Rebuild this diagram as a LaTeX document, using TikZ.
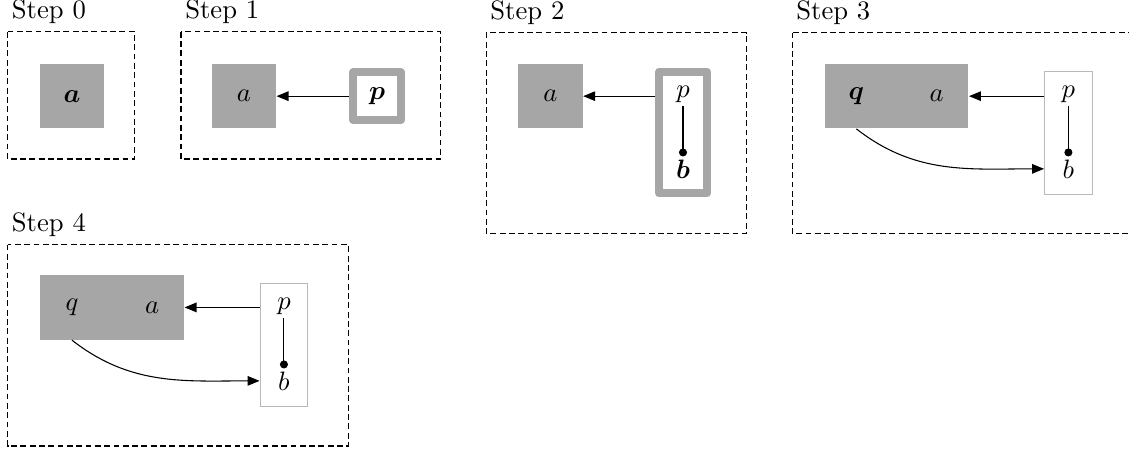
\documentclass[tikz,border=0pt]{standalone}
\usepackage{amsmath,amssymb}
\usepackage{bm}
\usetikzlibrary{calc, arrows.meta}

\tikzset{
  frame/.style={dash pattern=on 2.2pt off 1.3pt, line width=0.4pt},
  steplabel/.style={anchor=base west, inner sep=0pt},
  cell/.style={fill=gray!70, minimum size=0.85cm, inner sep=0pt},
  letter/.style={inner sep=1pt},
  block/.style={fill=gray!70, minimum width=1.9cm, minimum height=0.85cm, inner sep=0pt},
  focus/.style={draw=gray!70, line width=3pt, line join=round, fill=white, minimum width=0.63cm, minimum height=0.63cm},
  holder/.style={draw=gray!55, line width=0.4pt, minimum width=0.63cm, minimum height=1.62cm},
  link/.style={-{Triangle[length=4.5pt, width=3.6pt]}},
  stem/.style={line width=0.4pt, -{Circle[length=3pt]}}
}

\begin{document}
\begin{tikzpicture}
\useasboundingbox (0,0) rectangle (14.91,-5.98);

\draw[frame] (0.10,-0.42) rectangle (1.78,-2.10);
\node[steplabel] (l0) at (0.15,-0.25) {Step 0};
\node[cell] (a0) at (0.95,-1.27) {$\bm{a}$};

\draw[frame] (2.39,-0.42) rectangle (5.82,-2.10);
\node[steplabel] (l1) at (2.44,-0.25) {Step 1};
\node[cell] (a1) at (3.22,-1.27) {$a$};
\node[focus] (p1) at (4.98,-1.27) {$\bm{p}$};
\draw[link] (p1) -- (a1);

\draw[frame] (6.42,-0.43) rectangle (9.86,-3.08);
\node[steplabel] (l2) at (6.47,-0.26) {Step 2};
\node[cell] (a2) at (7.27,-1.27) {$a$};
\node[focus, minimum height=1.61cm] (pb2) at (9.02,-1.75) {};
\node[letter] (p2) at (9.02,-1.25) {$p$};
\node[letter] (b2) at (9.02,-2.23) {$\bm{b}$};
\draw[stem] (p2) -- (b2);
\draw[link] (pb2.west |- a2.east) -- (a2.east);

\draw[frame] (10.46,-0.43) rectangle (15.05,-3.08);
\node[steplabel] (l3) at (10.51,-0.26) {Step 3};
\node[block] (qa3) at (11.84,-1.27) {};
\node[letter] (q3) at (11.31,-1.27) {$\bm{q}$};
\node[letter] (a3) at (12.37,-1.27) {$a$};
\node[holder] (pb3) at (14.11,-1.76) {};
\node[letter] (p3) at (14.11,-1.25) {$p$};
\node[letter] (b3) at (14.11,-2.23) {$b$};
\draw[stem] (p3) -- (b3);
\draw[link] (pb3.west |- qa3.east) -- (qa3.east);
\draw[link] (q3 |- qa3.south) to[out=-38, in=180] (pb3.west |- b3);

\draw[frame] (0.10,-3.23) rectangle (4.60,-5.89);
\node[steplabel] (l4) at (0.15,-3.06) {Step 4};
\node[block] (qa4) at (1.48,-4.06) {};
\node[letter] (q4) at (0.95,-4.06) {$q$};
\node[letter] (a4) at (2.01,-4.06) {$a$};
\node[holder] (pb4) at (3.75,-4.56) {};
\node[letter] (p4) at (3.75,-4.05) {$p$};
\node[letter] (b4) at (3.75,-5.03) {$b$};
\draw[stem] (p4) -- (b4);
\draw[link] (pb4.west |- qa4.east) -- (qa4.east);
\draw[link] (q4 |- qa4.south) to[out=-38, in=180] (pb4.west |- b4);
\end{tikzpicture}
\end{document}
